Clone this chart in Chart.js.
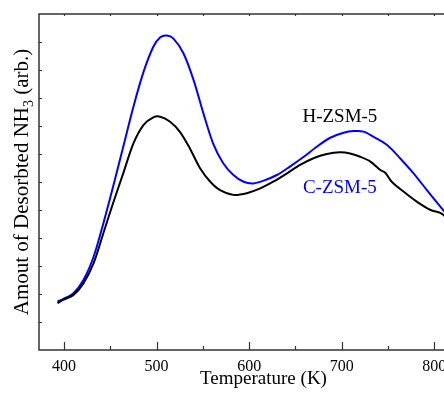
<!DOCTYPE html>
<html>
<head>
<meta charset="utf-8">
<script src="https://cdn.jsdelivr.net/npm/chart.js@4.4.0/dist/chart.umd.min.js"></script>
<style>
  html, body { margin: 0; padding: 0; background: #fff; overflow: hidden; }
  #wrap { position: relative; width: 500px; height: 393px; }
</style>
</head>
<body>
<div id="wrap"><canvas id="c" width="500" height="393" style="width:500px;height:393px"></canvas></div>
<script>
// Temperature (K)
const temperature = [393, 399, 410, 421, 432, 442.5, 453, 464, 475, 486, 496.5, 504, 514.6, 525, 536, 547, 558, 568.6, 583, 597.5, 612, 626, 641, 655, 669.5, 684, 698, 709, 720, 731, 741.6, 747, 754, 767, 781, 796, 806.5, 811];
// H-ZSM-5 (black)
const hzsm5 = [1.67, 1.79, 1.96, 2.38, 3.1, 4.17, 5.24, 6.31, 7.38, 8.04, 8.31, 8.33, 8.15, 7.8, 7.2, 6.49, 6.01, 5.71, 5.54, 5.6, 5.77, 6.01, 6.31, 6.61, 6.85, 7.0, 7.06, 7.02, 6.9, 6.73, 6.43, 6.33, 6.01, 5.65, 5.3, 5.0, 4.9, 4.79];
// C-ZSM-5 (blue)
const cTemperature = [393, 399, 410, 421, 432, 442.5, 453, 464, 475, 486, 496.5, 504, 511, 518, 529, 540, 550.6, 561, 572, 583, 594, 604.6, 615, 630, 644, 659, 673, 687.6, 702, 713, 723.6, 734, 749, 763, 777.6, 792, 806.5, 811];
const czsm5 = [1.73, 1.82, 2.02, 2.5, 3.33, 4.52, 5.83, 7.26, 8.69, 9.94, 10.83, 11.17, 11.23, 11.13, 10.6, 9.64, 8.45, 7.38, 6.67, 6.25, 6.01, 5.95, 6.04, 6.25, 6.55, 6.9, 7.26, 7.58, 7.76, 7.82, 7.8, 7.62, 7.32, 6.85, 6.31, 5.71, 5.12, 4.94];

const xTickValues = [400, 450, 500, 550, 600, 650, 700, 750, 800, 850];
const yTickValues = [1, 2, 3, 4, 5, 6, 7, 8, 9, 10, 11];
const seriesLabels = ['H-ZSM-5', 'C-ZSM-5'];
const labelPositions = [[698, 8.32], [698, 5.79]];
const xTitle = 'Temperature (K)';
const yTitleMain = 'Amout of Desorbted NH';
const yTitleSub = '3';
const yTitleEnd = ' (arb.)';

const serif = "'Liberation Serif', 'Times New Roman', serif";
const axisColor = '#333333';

const decor = {
  id: 'decor',
  afterDraw(chart) {
    const {ctx, chartArea: a, scales: {x, y}} = chart;
    ctx.save();
    ctx.strokeStyle = axisColor;
    ctx.lineWidth = 1.5;
    ctx.beginPath();
    ctx.moveTo(a.right, a.top); ctx.lineTo(a.left, a.top);
    ctx.lineTo(a.left, a.bottom); ctx.lineTo(a.right, a.bottom);
    ctx.stroke();
    ctx.lineWidth = 1.2;
    ctx.beginPath();
    xTickValues.forEach(v => {
      const px = Math.round(x.getPixelForValue(v)) + 0.5;
      const major = v % 100 === 0;
      ctx.moveTo(px, a.bottom); ctx.lineTo(px, a.bottom - (major ? 8 : 4));
      ctx.moveTo(px, a.top); ctx.lineTo(px, a.top + 2);
    });
    yTickValues.forEach(v => {
      const py = Math.round(y.getPixelForValue(v)) + 0.5;
      ctx.moveTo(a.left, py); ctx.lineTo(a.left + 3, py);
    });
    ctx.stroke();

    // series labels
    ctx.font = '19px ' + serif;
    ctx.textAlign = 'center';
    ctx.textBaseline = 'middle';
    const colors = ['#000000', '#0000ff'];
    seriesLabels.forEach((t, i) => {
      ctx.fillStyle = colors[i];
      ctx.fillText(t, x.getPixelForValue(labelPositions[i][0]), y.getPixelForValue(labelPositions[i][1]));
    });

    // y title with subscript
    ctx.fillStyle = '#000';
    ctx.translate(28, (a.top + a.bottom) / 2);
    ctx.rotate(-Math.PI / 2);
    const big = '21px ' + serif, small = '14px ' + serif;
    ctx.font = big; const w1 = ctx.measureText(yTitleMain).width; const w3 = ctx.measureText(yTitleEnd).width;
    ctx.font = small; const w2 = ctx.measureText(yTitleSub).width;
    const total = w1 + w2 + w3;
    let sx = -total / 2;
    ctx.textAlign = 'left';
    ctx.textBaseline = 'alphabetic';
    ctx.font = big; ctx.fillText(yTitleMain, sx, 0); sx += w1;
    ctx.font = small; ctx.fillText(yTitleSub, sx, 5); sx += w2;
    ctx.font = big; ctx.fillText(yTitleEnd, sx, 0);
    ctx.restore();
  }
};

new Chart(document.getElementById('c'), {
  type: 'line',
  data: {
    datasets: [
      { label: seriesLabels[0], data: temperature.map((t, i) => ({x: t, y: hzsm5[i]})), borderColor: '#000000', borderWidth: 2, pointRadius: 0, tension: 0.3 },
      { label: seriesLabels[1], data: cTemperature.map((t, i) => ({x: t, y: czsm5[i]})), borderColor: '#0000ff', borderWidth: 2, pointRadius: 0, tension: 0.3 }
    ]
  },
  options: {
    responsive: false,
    animation: false,
    devicePixelRatio: 1,
    layout: { padding: { left: 0, top: 14, right: 12, bottom: 0 } },
    plugins: { legend: { display: false }, tooltip: { enabled: false } },
    scales: {
      x: {
        type: 'linear', min: 373, max: 858,
        grid: { display: false }, border: { display: false },
        afterBuildTicks: s => { s.ticks = xTickValues.map(v => ({value: v})); },
        afterFit: s => { s.height = 43; },
        ticks: { color: '#000', padding: -1, font: { family: serif, size: 16 }, maxRotation: 0, autoSkip: false,
          callback: v => (v % 100 === 0 ? String(v) : '') },
        title: { display: true, text: xTitle, color: '#000', font: { family: serif, size: 19 }, padding: { top: 0, bottom: 3 } }
      },
      y: {
        min: 0, max: 12,
        grid: { display: false }, border: { display: false },
        ticks: { display: false },
        afterFit: s => { s.width = 39; }
      }
    }
  },
  plugins: [decor]
});
</script>
</body>
</html>
